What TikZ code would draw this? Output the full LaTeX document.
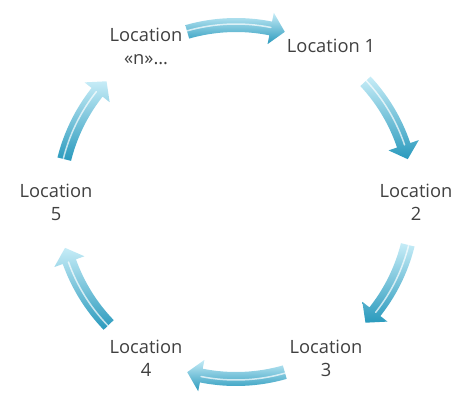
\documentclass[tikz,border=0pt]{standalone}
\usepackage{fontspec}
\usetikzlibrary{calc}
\setmainfont{Open Sans}
\definecolor{txt}{HTML}{404040}
\definecolor{arlight}{HTML}{C6ECF7}
\definecolor{ardark}{HTML}{2A9ABD}
\newcommand{\cycarrow}[2]{%
  \pgfmathsetmacro{\cycbase}{#2+4.7}%
  \path[arr] (#1:184) arc[start angle=#1, end angle=\cycbase, radius=184]
     -- (\cycbase:193) -- (#2:177) -- (\cycbase:161) -- (\cycbase:170)
     arc[start angle=\cycbase, end angle=#1, radius=170] -- cycle;
  \draw[white, opacity=.7, line width=1.5pt, line cap=round]
     (#1:178) arc[start angle=#1, end angle=\cycbase, radius=178];
}
\begin{document}
\begin{tikzpicture}[x=1pt,y=1pt,
  lbl/.style={text=txt, font=\fontsize{18.3}{23}\selectfont, align=center},
  arr/.style={top color=arlight, bottom color=ardark, draw=none}]
\useasboundingbox (0,0) rectangle (463,396);
\coordinate (C) at (236,194);
\begin{scope}[shift={(C)}]
  \node[lbl] (n1) at ($(60:180)+(5,0)$) {Location 1};
  \node[lbl] (n2) at (0:180) {Location\\2};
  \node[lbl] (n3) at (-60:180) {Location\\3};
  \node[lbl] (n4) at (-120:180) {Location\\4};
  \node[lbl] (n5) at (180:180) {Location\\5};
  \node[lbl] (nn) at (120:180) {Location\\«n»…};
  \cycarrow{106}{74}
  \cycarrow{43}{14}
  \cycarrow{-14}{-43}
  \cycarrow{-74}{-106}
  \cycarrow{-136}{-165}
  \cycarrow{166}{137}
\end{scope}
\end{tikzpicture}
\end{document}
